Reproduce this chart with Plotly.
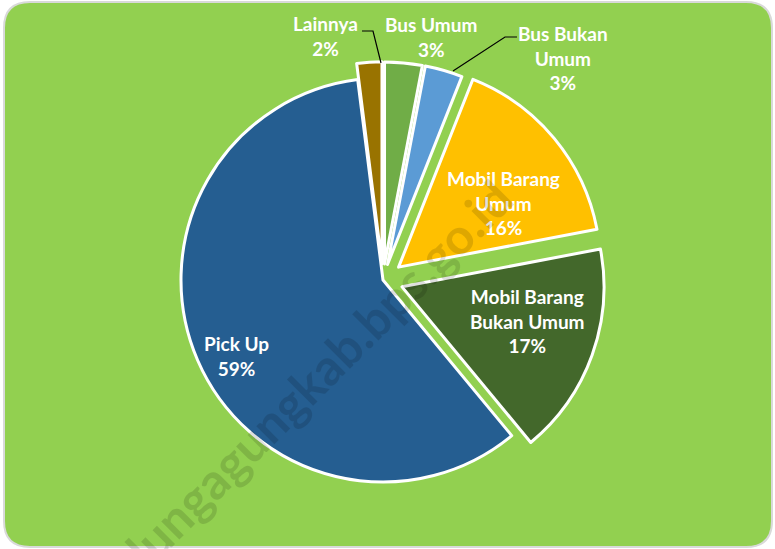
import plotly.graph_objects as go

W, H = 775, 549

categories = ["Bus Umum", "Bus Bukan Umum", "Mobil Barang Umum",
              "Mobil Barang Bukan Umum", "Pick Up", "Lainnya"]
values = [3, 3, 16, 17, 59, 2]
label_text = ["Bus Umum", "Bus Bukan<br>Umum", "Mobil Barang<br>Umum",
              "Mobil Barang<br>Bukan Umum", "Pick Up", "Lainnya"]
colors = ["#70AD47", "#5B9BD5", "#FFC000", "#43682B", "#255E91", "#997300"]
pulls = [0.08, 0.08, 0.1, 0.1, 0.0, 0.08]

# label anchor positions in pixels (center of text block)
label_pos = [(431, 37), (563, 58), (503, 203), (527, 321), (236, 356), (325, 36)]

cx, cy, r = 383, 280, 202
maxpull = max(pulls)
half = r * (1 + maxpull)

fig = go.Figure()
fig.add_trace(go.Pie(
    labels=categories, values=values, sort=False, direction="clockwise",
    rotation=0, pull=pulls, textinfo="none", hoverinfo="label+percent",
    marker=dict(colors=colors, line=dict(color="white", width=3)),
    domain=dict(x=[(cx - half) / W, (cx + half) / W],
                y=[1 - (cy + half) / H, 1 - (cy - half) / H]),
    showlegend=False,
))

def px(x):
    return x / W

def py(y):
    return 1 - y / H

total = sum(values)
for lab, v, (x, y) in zip(label_text, values, label_pos):
    fig.add_annotation(
        x=px(x), y=py(y), xref="paper", yref="paper",
        xanchor="center", yanchor="middle",
        text=f"<b>{lab}<br>{round(100 * v / total)}%</b>",
        showarrow=False, align="center",
        font=dict(family="Lato", size=19, color="white"),
    )

# background rounded rectangle
x0, x1, y0, y1, rr = 4, 772, 2, 547, 26
path = (f"M {px(x0+rr)},{py(y0)} L {px(x1-rr)},{py(y0)} "
        f"Q {px(x1)},{py(y0)} {px(x1)},{py(y0+rr)} "
        f"L {px(x1)},{py(y1-rr)} Q {px(x1)},{py(y1)} {px(x1-rr)},{py(y1)} "
        f"L {px(x0+rr)},{py(y1)} Q {px(x0)},{py(y1)} {px(x0)},{py(y1-rr)} "
        f"L {px(x0)},{py(y0+rr)} Q {px(x0)},{py(y0)} {px(x0+rr)},{py(y0)} Z")
fig.add_shape(type="path", path=path, xref="paper", yref="paper",
              fillcolor="#92D050", line=dict(color="#D9D9D9", width=2),
              layer="below")

# leader lines
lines = [
    [(362, 31), (373, 31), (381, 63)],
    [(517, 37), (505, 37), (453, 71)],
]
for pts in lines:
    p = "M " + " L ".join(f"{px(a)},{py(b)}" for a, b in pts)
    fig.add_shape(type="path", path=p, xref="paper", yref="paper",
                  line=dict(color="black", width=1.2))

# watermark
fig.add_annotation(
    x=px(302), y=py(390), xref="paper", yref="paper",
    xanchor="center", yanchor="middle",
    text="<b>tulungagungkab.bps.go.id</b>", showarrow=False, textangle=-45,
    font=dict(family="Lato", size=50, color="rgba(0,0,0,0.13)"),
)

fig.update_layout(
    width=W, height=H, margin=dict(l=0, r=0, t=0, b=0),
    paper_bgcolor="white", plot_bgcolor="white",
)

fig.write_html("out.html", config={"displayModeBar": False},
               post_script="document.body.style.margin='0px';")
